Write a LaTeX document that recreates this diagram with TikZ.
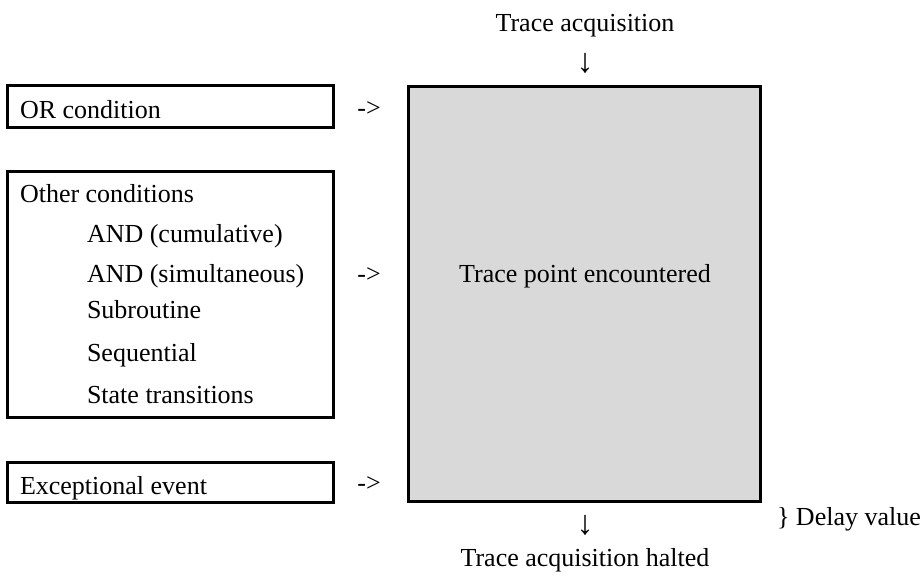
\documentclass[tikz,border=0pt]{standalone}
\usepackage{fontspec}
\setmainfont{Liberation Serif}
\usetikzlibrary{fit}
\definecolor{boxgray}{HTML}{D9D9D9}
\begin{document}
\begin{tikzpicture}[x=0.5pt,y=-0.5pt,
  every node/.style={inner sep=0pt, outer sep=0pt, font=\fontsize{13}{15.6}\selectfont},
  box/.style={draw, line width=1.5pt, inner sep=0pt},
  graybox/.style={box, fill=boxgray},
  lbl/.style={anchor=base west},
  ctr/.style={anchor=base},
  arrowtxt/.style={anchor=center, font=\fontsize{17}{20}\selectfont}
]
\useasboundingbox (0,0) rectangle (921,581);

% main gray box
\node[graybox, fit={(408,87) (760,502)}] (main) {};
\node[ctr] (mainlbl) at (585,283) {Trace point encountered};

% top / bottom labels
\node[ctr] (start) at (585,32) {Trace acquisition};
\node[arrowtxt] (downA) at (585,63) {↓};
\node[arrowtxt] (downB) at (585,525) {↓};
\node[ctr] (halt) at (585,567) {Trace acquisition halted};
\node[lbl] (delay) at (777,526) {\} Delay value};

% left boxes
\node[box, fit={(7,86) (333,128)}] (orbox) {};
\node[lbl] (ortxt) at (20,119) {OR condition};
\node[ctr] (orarr) at (369,117) {->};

\node[box, fit={(7,172) (333,418)}] (otherbox) {};
\node[lbl] (othertxt) at (20,203) {Other conditions};
\node[lbl] (andc) at (87,243) {AND (cumulative)};
\node[lbl] (ands) at (87,283) {AND (simultaneous)};
\node[lbl] (subr) at (87,319) {Subroutine};
\node[lbl] (seq) at (87,362) {Sequential};
\node[lbl] (state) at (87,404) {State transitions};
\node[ctr] (otherarr) at (369,283) {->};

\node[box, fit={(7,463) (333,503)}] (excbox) {};
\node[lbl] (exctxt) at (20,495) {Exceptional event};
\node[ctr] (excarr) at (369,492) {->};
\end{tikzpicture}
\end{document}
